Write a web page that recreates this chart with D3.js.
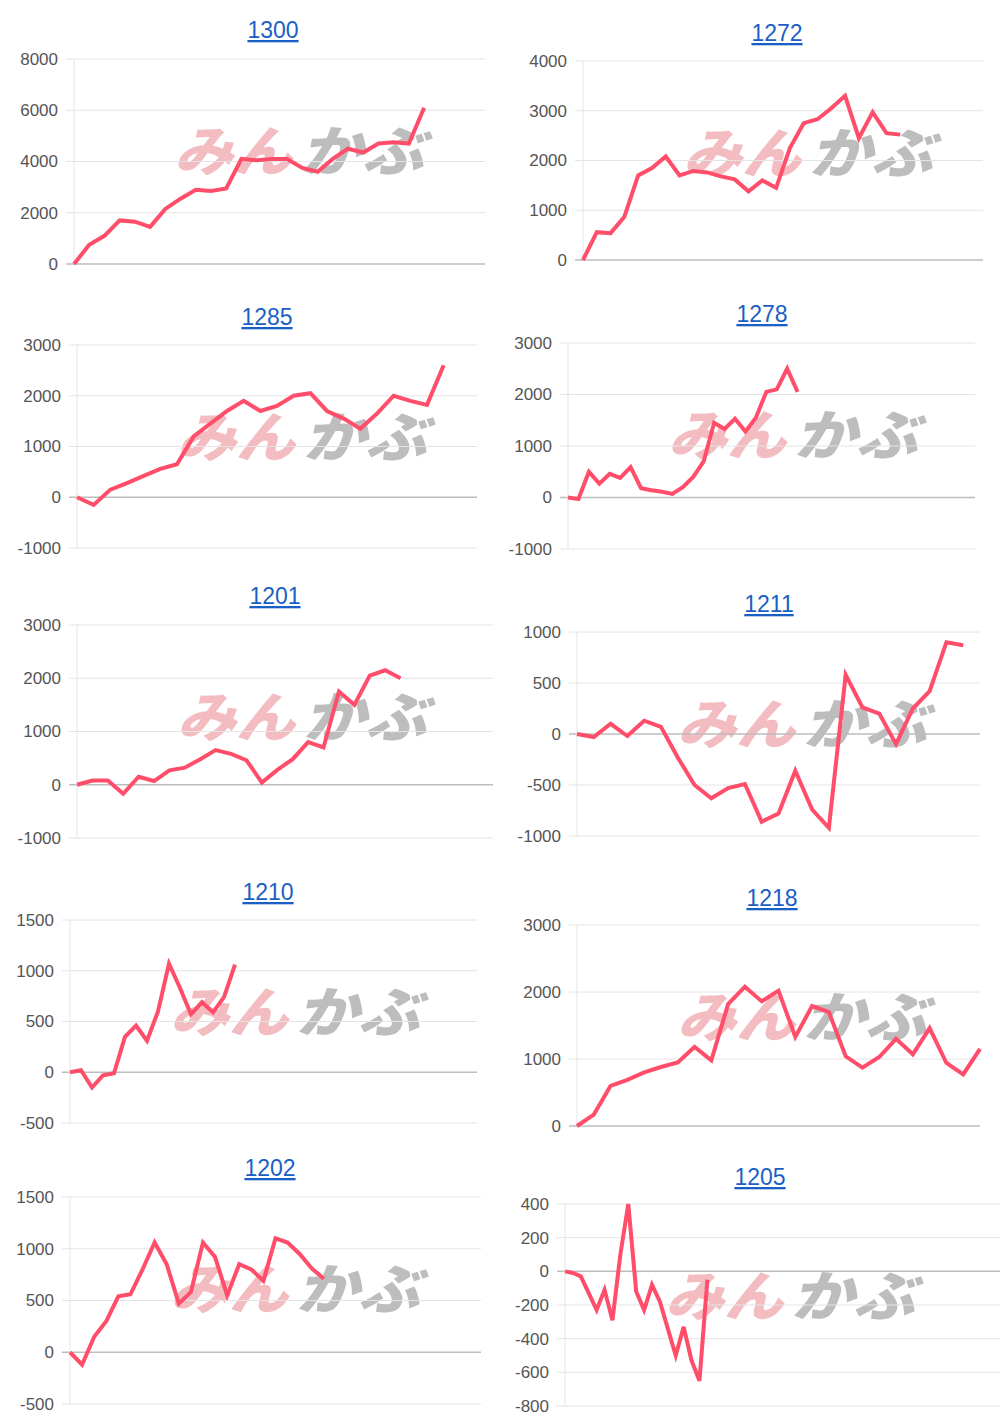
<!DOCTYPE html>
<html><head><meta charset="utf-8">
<script src="https://cdn.jsdelivr.net/npm/d3@7"></script>
<style>body{margin:0;background:#fff}</style>
</head><body>
<svg id="c" width="1000" height="1428"></svg>
<script>
const titles = ["1300","1272","1285","1278","1201","1211","1210","1218","1202","1205"];
const s1300 = [0,750,1100,1700,1650,1450,2150,2550,2900,2850,2950,4100,4050,4100,4100,3750,3600,4100,4500,4350,4700,4750,4700,6100];
const s1272 = [0,560,540,870,1700,1850,2080,1700,1790,1760,1680,1620,1380,1600,1450,2250,2750,2830,3050,3300,2450,2970,2550,2520];
const s1285 = [0,-150,150,280,420,560,650,1200,1450,1700,1900,1700,1800,2000,2050,1700,1550,1350,1650,2000,1900,1820,2600];
const s1278 = [0,-30,500,270,460,380,590,180,140,110,70,200,400,700,1450,1330,1530,1280,1550,2050,2100,2500,2050];
const s1201 = [0,80,80,-170,150,70,270,320,480,650,580,460,40,280,480,800,700,1750,1500,2050,2150,2000];
const s1211 = [0,-30,100,-20,130,70,-230,-500,-630,-530,-490,-860,-780,-360,-740,-920,580,260,200,-100,250,420,900,870];
const s1210 = [0,20,-150,-30,-10,350,460,310,600,1070,830,570,690,590,740,1060];
const s1218 = [0,170,600,690,800,880,950,1180,980,1820,2080,1860,2020,1330,1790,1700,1040,870,1030,1300,1070,1460,940,770,1150];
const s1202 = [0,-120,150,300,540,560,800,1060,850,470,580,1060,920,550,850,800,690,1100,1060,950,810,710];
const s1205 = [0,-10,-30,-130,-230,-110,-290,100,400,-120,-230,-80,-180,-340,-500,-330,-530,-650,-50];
const seriesList = [s1300,s1272,s1285,s1278,s1201,s1211,s1210,s1218,s1202,s1205];
const yTicks = [
 [0,2000,4000,6000,8000],[0,1000,2000,3000,4000],[-1000,0,1000,2000,3000],[-1000,0,1000,2000,3000],
 [-1000,0,1000,2000,3000],[-1000,-500,0,500,1000],[-500,0,500,1000,1500],[0,1000,2000,3000],
 [-500,0,500,1000,1500],[-800,-600,-400,-200,0,200,400]];
const xDomainMax = [27,29,24,39,27,24,37,24,34,55];

const layout = [
 [74,485,59,264,273,30],[583,983,61,260,777,33],
 [77,477,345,548,267,317],[568,975,343,549,762,314],
 [77,493,625,838,275,596],[577,980,632,836,769,604],
 [70,477,920,1123,268,892],[577,980,925,1126,772,898],
 [70,481,1197,1404,270,1168],[565,1000,1204,1406,760,1177]];

const svg = d3.select("#c");
seriesList.forEach((data,i)=>{
  const [L,R,T,B,tx,ty] = layout[i];
  const ticks = yTicks[i];
  const x = d3.scaleLinear().domain([0,xDomainMax[i]]).range([L,R]);
  const y = d3.scaleLinear().domain([ticks[0],ticks[ticks.length-1]]).range([B,T]);
  const g = svg.append("g");
  const wm = g.append("g").attr("font-family","Noto Sans CJK JP").attr("font-weight","900")
    .attr("font-style","italic").attr("font-size",54);
  wm.append("text").attr("x",L+100).attr("y",T+112).attr("fill","#f3bcc1")
    .attr("textLength",118).attr("lengthAdjust","spacingAndGlyphs").text("みん");
  wm.append("text").attr("x",L+226).attr("y",T+112).attr("fill","#bdbdbd")
    .attr("textLength",124).attr("lengthAdjust","spacingAndGlyphs").text("かぶ");
  g.selectAll("line.grid").data(ticks).enter().append("line")
    .attr("x1",L-8).attr("x2",R).attr("y1",d=>y(d)).attr("y2",d=>y(d))
    .attr("stroke",d=>d===0?"#bdbdbd":"#e4e4e4").attr("stroke-width",d=>d===0?1.5:1);
  g.append("line").attr("x1",L).attr("x2",L).attr("y1",T).attr("y2",B).attr("stroke","#e4e4e4");
  const ax = g.append("g").attr("transform",`translate(${L-14},0)`)
    .call(d3.axisLeft(y).tickValues(ticks).tickSize(0).tickPadding(2).tickFormat(d=>String(d)));
  ax.select(".domain").remove();
  ax.selectAll("text").attr("font-family","Liberation Sans, Arial").attr("font-size",17).attr("fill","#555");
  g.append("path").datum(data).attr("fill","none").attr("stroke","#ff4d6a").attr("stroke-width",4)
    .attr("stroke-linejoin","miter").attr("d",d3.line().x((d,k)=>x(k)).y(d=>y(d)));
  g.append("text").attr("x",tx).attr("y",ty+8).attr("text-anchor","middle")
    .attr("font-family","Liberation Sans, Arial").attr("font-size",23).attr("fill","#1a5fc4")
    .attr("text-decoration","underline").text(titles[i]);
});
</script>
</body></html>
